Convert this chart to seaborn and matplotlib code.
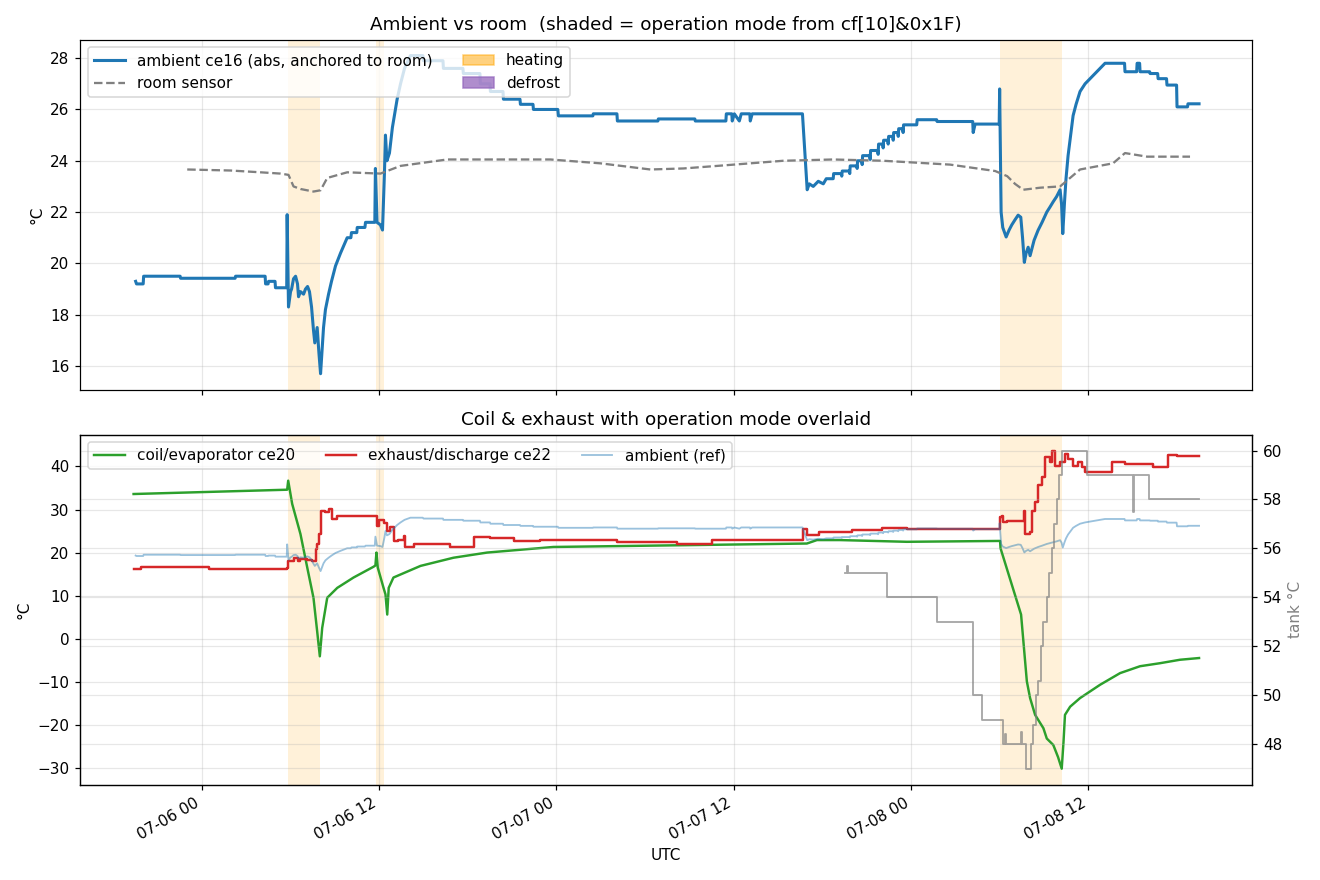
import numpy as np
import pandas as pd
import matplotlib
matplotlib.use("Agg")
import matplotlib.pyplot as plt
import matplotlib.dates as mdates
import matplotlib.patches as mpatches
import seaborn as sns

# time base: hours after 2025-07-06 00:00 UTC
t0 = pd.Timestamp("2025-07-06 00:00")

# ambient ce16 (abs, anchored to room)
amb_h = [-4.46, -4.40, -3.95, -3.92, -1.45, -1.42, 2.27, 2.30, 4.30, 4.33, 4.50, 4.53, 4.97, 5.00,
         5.76, 5.79, 5.88, 6.02, 6.09, 6.22, 6.36, 6.49, 6.56, 6.69, 6.90, 7.03, 7.17, 7.30, 7.44,
         7.57, 7.66, 7.82, 7.94, 8.05, 8.15, 8.25, 8.38, 8.59, 8.79, 9.06, 9.40, 9.70, 9.85, 10.10,
         10.14, 10.50, 10.53, 11.05, 11.09, 11.72, 11.76, 11.87, 12.10, 12.24, 12.37, 12.44, 12.54,
         12.71, 12.91, 13.23, 13.46, 13.73, 14.13, 14.97, 15.01, 16.33, 16.36, 17.68, 17.71, 18.83,
         18.86, 19.51, 19.54, 20.39, 20.42, 21.54, 21.57, 22.42, 22.45, 24.10, 24.14, 26.47, 26.50,
         28.10, 28.13, 30.87, 30.90, 33.37, 33.40, 35.47, 35.50, 35.87, 35.90, 36.04, 36.38, 36.51,
         37.09, 37.12, 37.25, 40.65, 40.97, 41.11, 41.38, 41.72, 42.06, 42.26, 42.73, 42.76, 43.28,
         43.31, 43.34, 43.82, 43.85, 43.88, 44.32, 44.35, 44.38, 44.66, 44.69, 44.72, 45.20, 45.23,
         45.26, 45.74, 45.77, 45.80, 46.08, 46.11, 46.14, 46.42, 46.45, 46.48, 46.76, 46.79, 46.82,
         47.10, 47.13, 47.16, 47.43, 47.46, 47.49, 48.38, 48.41, 49.73, 49.76, 52.17, 52.20, 52.33,
         53.96, 53.99, 54.09, 54.20, 54.43, 54.63, 54.81, 55.03, 55.24, 55.42, 55.54, 55.66, 55.78,
         55.92, 56.05, 56.32, 56.59, 56.86, 57.18, 57.40, 57.61, 57.84, 58.08, 58.18, 58.26, 58.38,
         58.48, 58.62, 58.76, 58.96, 59.16, 59.43, 59.77, 60.11, 60.45, 60.79, 61.12, 62.44, 62.47,
         63.26, 63.29, 63.46, 63.49, 64.14, 64.17, 64.68, 64.71, 65.28, 65.31, 65.96, 65.99, 66.70,
         66.73, 67.48]
amb_t = [19.3, 19.2, 19.2, 19.5, 19.5, 19.42, 19.42, 19.5, 19.5, 19.2, 19.2, 19.3, 19.3, 19.05,
         19.05, 21.9, 18.3, 18.9, 19.0, 19.4, 19.5, 19.2, 18.7, 18.9, 18.8, 19.0, 19.1, 18.9, 18.3,
         17.4, 16.9, 17.5, 16.5, 15.7, 16.6, 17.5, 18.2, 18.8, 19.3, 19.9, 20.4, 20.8, 21.0, 21.0,
         21.2, 21.2, 21.4, 21.4, 21.6, 21.6, 23.7, 21.6, 21.5, 21.3, 23.5, 25.0, 24.0,
         24.3, 25.3, 26.4, 27.0, 27.6, 28.1, 28.1, 27.9, 27.9, 27.6, 27.6, 27.4, 27.4,
         27.0, 27.0, 26.7, 26.7, 26.4, 26.4, 26.2, 26.2, 26.0, 26.0, 25.75, 25.75, 25.83,
         25.83, 25.55, 25.55, 25.63, 25.63, 25.55, 25.55, 25.83, 25.83, 25.55, 25.83, 25.55, 25.83,
         25.83, 25.55, 25.83, 25.83, 22.87, 23.1, 23.0, 23.2, 23.1, 23.3, 23.3, 23.5, 23.5,
         23.4, 23.6, 23.6, 23.5, 23.8, 23.8, 23.7, 24.0, 24.0, 23.85, 24.2, 24.2, 24.05,
         24.4, 24.4, 24.25, 24.65, 24.65, 24.5, 24.8, 24.8, 24.65, 24.95, 24.95, 24.8, 25.1,
         25.1, 24.95, 25.25, 25.25, 25.1, 25.4, 25.4, 25.6, 25.6, 25.53, 25.53, 25.1, 25.43,
         25.43, 26.8, 22.0, 21.4, 21.03, 21.3, 21.5, 21.7, 21.88, 21.8, 21.0, 20.04, 20.4,
         20.63, 20.3, 20.9, 21.29, 21.6, 22.0, 22.2, 22.4, 22.6, 22.87, 22.3, 21.16, 22.4,
         23.3, 24.2, 24.84, 25.76, 26.2, 26.7, 27.0, 27.2, 27.4, 27.6, 27.8, 27.8, 27.47,
         27.47, 27.8, 27.8, 27.47, 27.47, 27.4, 27.4, 27.2, 27.2, 26.95, 26.95, 26.1, 26.1,
         26.22, 26.22]

# room sensor
room_h = [-0.97, 1.96, 3.99, 5.34, 5.88, 6.22, 6.69, 7.57, 8.05, 8.50, 9.85, 12.10, 13.46, 16.61,
          19.99, 23.60, 26.98, 30.36, 32.59, 34.89, 39.35, 42.73, 46.11, 50.64, 53.69, 54.50,
          55.03, 55.58, 56.73, 58.08, 59.43, 61.66, 62.47, 63.96, 66.87]
room_t = [23.66, 23.62, 23.55, 23.5, 23.45, 23.0, 22.9, 22.8, 22.85, 23.33, 23.55, 23.5, 23.8, 24.05,
          24.05, 24.05, 23.9, 23.66, 23.7, 23.8, 24.0, 24.05, 24.0, 23.85, 23.6, 23.4,
          23.1, 22.87, 22.95, 23.0, 23.66, 23.9, 24.3, 24.16, 24.16]

# coil/evaporator ce20
coil_h = [-4.60, 5.79, 5.86, 6.13, 6.69, 7.15, 7.57, 7.82, 8.00, 8.16, 8.50, 9.18, 10.28, 11.63,
          11.76, 11.83, 11.92, 12.31, 12.44, 12.56, 12.66, 12.98, 14.81, 17.04, 19.32, 23.80,
          40.95, 41.63, 43.20, 47.71, 54.02, 54.05, 55.44, 55.83, 56.05, 56.39, 56.95, 57.18,
          57.62, 57.94, 58.19, 58.31, 58.41, 58.76, 59.43, 60.79, 62.14, 63.49, 64.84, 66.19, 67.48]
coil_t = [33.6, 34.6, 36.7, 31.3, 24.3, 16.5, 9.5, 1.7, -4.1, 2.5, 9.5, 11.8, 14.2, 16.7,
          17.0, 20.0, 16.5, 11.8, 10.3, 5.6, 11.8, 14.2, 16.9, 18.8, 20.0, 21.3,
          22.1, 22.9, 22.9, 22.5, 22.7, 21.0, 5.6, -9.9, -13.8, -17.7, -20.8, -23.2,
          -24.7, -27.5, -30.2, -24.0, -17.7, -15.8, -13.8, -10.7, -8.0, -6.4, -5.7, -4.9, -4.5]

# exhaust/discharge ce22 - stepped
exh_h = [-4.60, -4.12, 0.47, 5.79, 5.88, 6.22, 6.49, 6.69, 7.10, 7.48, 7.71, 7.81, 7.93, 8.05,
         8.32, 8.61, 8.84, 9.13, 9.85, 11.76, 11.88, 12.03, 12.31, 12.56, 12.78, 13.00, 13.31,
         13.68, 13.79, 14.35, 16.84, 18.41, 19.54, 21.12, 22.92, 28.11, 32.16, 34.53, 40.72,
         40.97, 41.74, 44.00, 46.02, 47.71, 54.02, 54.14, 54.25, 54.48, 55.61, 55.73, 56.07,
         56.17, 56.39, 56.61, 56.84, 57.07, 57.40, 57.52, 57.74, 58.08, 58.42, 58.64, 58.98,
         59.30, 59.56, 59.77, 61.58, 62.47, 64.39, 65.40, 65.97, 67.48]
exh_t = [16.1, 16.7, 16.1, 16.4, 18.1, 18.8, 18.0, 18.6, 18.3, 18.1, 20.8, 22.0, 24.3, 29.7,
         29.4, 30.1, 27.8, 28.4, 28.6, 28.4, 26.2, 27.6, 26.8, 25.1, 26.0, 22.7, 23.0,
         23.9, 21.2, 22.0, 21.2, 23.7, 23.4, 22.7, 22.9, 22.4, 22.1, 23.0, 25.5,
         24.1, 24.7, 25.2, 25.7, 25.4, 28.2, 28.6, 27.0, 27.4, 29.7, 24.3, 24.8,
         29.7, 31.7, 35.6, 37.5, 42.2, 41.0, 43.7, 40.2, 41.0, 42.9, 41.8, 40.2,
         41.0, 39.8, 38.7, 41.0, 40.6, 39.8, 42.6, 42.4, 42.4]

# tank temperature (right axis) - stepped
tank_h = [43.54, 43.63, 43.70, 46.36, 49.78, 52.18, 52.79, 54.25, 54.37, 54.43, 55.44, 55.51,
          55.75, 56.12, 56.28, 56.46, 56.59, 56.76, 56.95, 57.18, 57.33, 57.52, 57.67, 57.86,
          58.01, 58.19, 59.88, 63.04, 63.11, 64.12, 67.48]
tank_t = [55.0, 55.3, 55.0, 54.0, 53.0, 50.0, 49.0, 48.0, 48.4, 48.0, 48.5, 48.0,
          47.0, 48.0, 48.8, 50.0, 50.6, 52.0, 53.0, 54.0, 55.0, 56.0, 57.0, 58.0,
          59.0, 60.0, 59.0, 57.5, 59.0, 58.0, 58.0]

# operation mode spans (hours)
heating_spans = [(5.88, 7.98), (11.83, 12.37), (54.02, 58.19)]
defrost_spans = [(7.98, 8.02)]


def to_time(hours):
    return t0 + pd.to_timedelta(np.array(hours), unit="h")


amb = pd.DataFrame({"time": to_time(amb_h), "temp": amb_t})
room = pd.DataFrame({"time": to_time(room_h), "temp": room_t})
coil = pd.DataFrame({"time": to_time(coil_h), "temp": coil_t})
exh = pd.DataFrame({"time": to_time(exh_h), "temp": exh_t})
tank = pd.DataFrame({"time": to_time(tank_h), "temp": tank_t})

fig, (ax1, ax2) = plt.subplots(2, 1, figsize=(12, 8), dpi=110, sharex=True)


def shade(ax):
    for a, b in heating_spans:
        ax.axvspan(t0 + pd.Timedelta(hours=a), t0 + pd.Timedelta(hours=b),
                   color="orange", alpha=0.15, lw=0)
    for a, b in defrost_spans:
        ax.axvspan(t0 + pd.Timedelta(hours=a), t0 + pd.Timedelta(hours=b),
                   color="tab:purple", alpha=0.15, lw=0)


# top panel
shade(ax1)
sns.lineplot(data=amb, x="time", y="temp", ax=ax1, color="tab:blue", lw=2,
             estimator=None, sort=False, label="ambient ce16 (abs, anchored to room)")
sns.lineplot(data=room, x="time", y="temp", ax=ax1, color="gray", lw=1.5,
             linestyle="--", estimator=None, sort=False, label="room sensor")
h, l = ax1.get_legend_handles_labels()
h += [mpatches.Patch(color="orange", alpha=0.5, label="heating"),
      mpatches.Patch(color="tab:purple", alpha=0.75, label="defrost")]
ax1.legend(handles=h, loc="upper left", ncol=2)
ax1.set_title("Ambient vs room  (shaded = operation mode from cf[10]&0x1F)")
ax1.set_ylabel("°C")
ax1.set_xlabel("")
ax1.grid(True, alpha=0.3)

# bottom panel
shade(ax2)
sns.lineplot(data=coil, x="time", y="temp", ax=ax2, color="tab:green", lw=1.6,
             estimator=None, sort=False, label="coil/evaporator ce20")
sns.lineplot(data=exh, x="time", y="temp", ax=ax2, color="tab:red", lw=1.6,
             drawstyle="steps-post", estimator=None, sort=False, label="exhaust/discharge ce22")
sns.lineplot(data=amb, x="time", y="temp", ax=ax2, color="tab:blue", lw=1.2, alpha=0.45,
             estimator=None, sort=False, label="ambient (ref)")
ax2.legend(loc="upper left", ncol=3)
ax2.set_title("Coil & exhaust with operation mode overlaid")
ax2.set_ylabel("°C")
ax2.set_xlabel("UTC")
ax2.grid(True, alpha=0.3)

ax3 = ax2.twinx()
sns.lineplot(data=tank, x="time", y="temp", ax=ax3, color="gray", lw=1.2, alpha=0.7,
             drawstyle="steps-post", estimator=None, sort=False, legend=False)
ax3.set_ylabel("tank °C", color="gray")
ax3.grid(True, alpha=0.3)

ax2.xaxis.set_major_locator(mdates.HourLocator(byhour=[0, 12]))
ax2.xaxis.set_major_formatter(mdates.DateFormatter("%m-%d %H"))
fig.autofmt_xdate()
fig.tight_layout()
fig.savefig("out.png", dpi=110)
